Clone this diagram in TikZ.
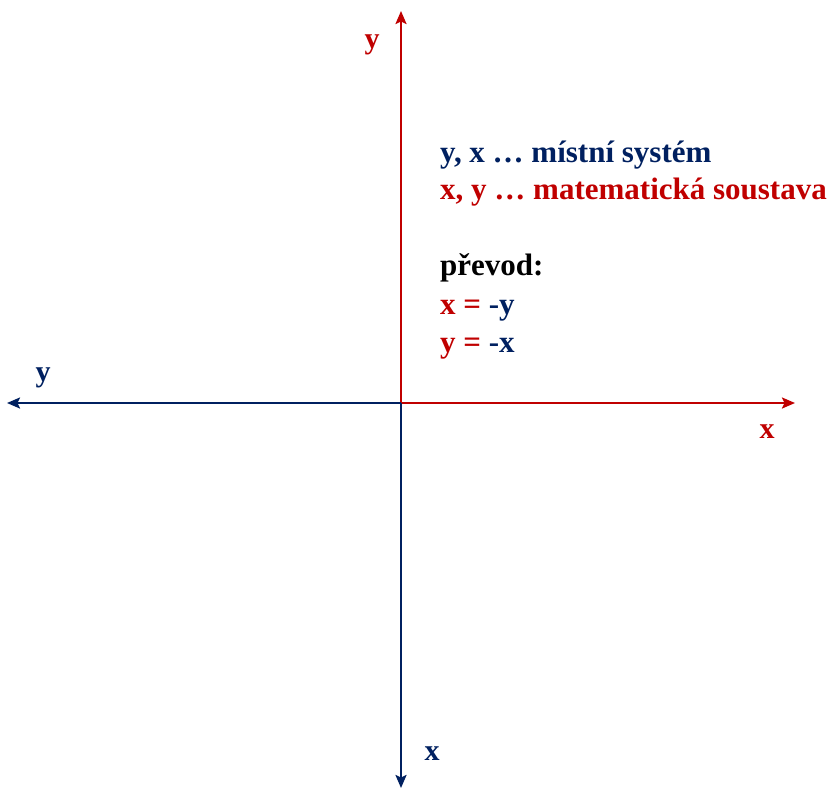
\documentclass[tikz,border=0pt]{standalone}
\usepackage{fontspec}
\setmainfont{Liberation Serif}
\usetikzlibrary{arrows.meta}
\definecolor{cred}{HTML}{C00000}
\definecolor{cblue}{HTML}{002060}
\tikzset{
  axis/.style={line width=2.2pt,-{Stealth[length=13pt,width=11pt,inset=2.5pt]}},
  lbl/.style={font=\bfseries\fontsize{30}{36}\selectfont,inner sep=0pt},
  txt/.style={font=\bfseries\fontsize{31}{37}\selectfont,inner sep=0pt,anchor=base west}
}
\begin{document}
\begin{tikzpicture}[x=1pt,y=-1pt]
\useasboundingbox (0,0) rectangle (834,787);
\coordinate (o) at (401,403);
\coordinate (ytop) at (401,11);
\coordinate (xright) at (795,403);
\coordinate (yleft) at (7,403);
\coordinate (xbot) at (401,788);
\draw[axis,cred] (o) -- (ytop);
\draw[axis,cred] (o) -- (xright);
\draw[axis,cblue] (o) -- (yleft);
\draw[axis,cblue] (o) -- (xbot);
\node[lbl,text=cred] (ly) at (372,45) {y};
\node[lbl,text=cblue] (ly2) at (43,378) {y};
\node[lbl,text=cred] (lx) at (767,432) {x};
\node[lbl,text=cblue] (lx2) at (432,754) {x};
\node[txt,text=cblue] (t1) at (440,162) {y, x … místní systém};
\node[txt,text=cred] (t2) at (440,199) {x, y … matematická soustava};
\node[txt,text=black] (t3) at (440,275) {převod:};
\node[txt] (t4) at (440,314) {\textcolor{cred}{x =} \textcolor{cblue}{-y}};
\node[txt] (t5) at (440,352) {\textcolor{cred}{y =} \textcolor{cblue}{-x}};
\end{tikzpicture}
\end{document}
